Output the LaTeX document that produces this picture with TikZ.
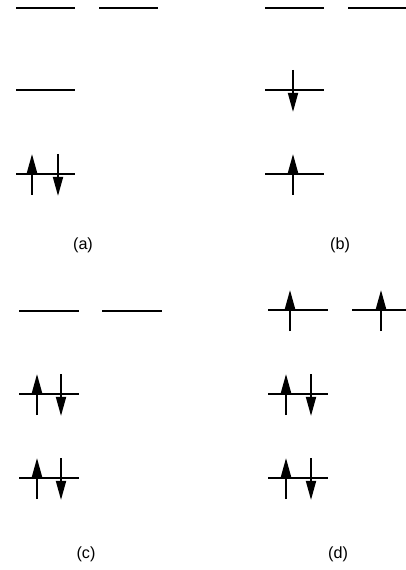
\documentclass[tikz,border=0pt]{standalone}
\usepackage{fontspec}
\setmainfont{Liberation Sans}
\usetikzlibrary{arrows.meta}

\begin{document}
\begin{tikzpicture}[x=0.025cm, y=-0.025cm, line width=0.5mm,
    spin/.style={-{Triangle[length=4.8mm, width=2.5mm]}},
    lbl/.style={font=\fontsize{11.5}{13}\selectfont}]
    \useasboundingbox (0,0) rectangle (406,570);
    % level from x1 to x2 at height y
    \def\lev#1#2#3{\draw (#1,#3) -- (#2,#3);}
    % spin up / spin down at x on level y
    \def\up#1#2{\draw[spin] (#1,#2+21) -- (#1,#2-20);}
    \def\dn#1#2{\draw[spin] (#1,#2-20) -- (#1,#2+22);}

    % (a)
    \lev{16}{75}{8}
    \lev{99}{158}{8}
    \lev{16}{75}{90}
    \lev{16}{75}{174}
    \up{32}{174}
    \dn{58}{174}
    \node[lbl] (la) at (83,245) {(a)};

    % (b)
    \lev{265}{324}{8}
    \lev{348}{405.5}{8}
    \lev{265}{324}{90}
    \dn{293}{90}
    \lev{265}{324}{174}
    \up{293}{174}
    \node[lbl] (lb) at (340,245) {(b)};

    % (c)
    \lev{19}{79}{311}
    \lev{102}{162}{311}
    \lev{19}{79}{394}
    \up{37}{394}
    \dn{61}{394}
    \lev{19}{79}{478}
    \up{37}{478}
    \dn{61}{478}
    \node[lbl] (lc) at (86,554) {(c)};

    % (d)
    \lev{268}{328}{310}
    \up{290}{310}
    \lev{352}{405.5}{310}
    \up{381}{310}
    \lev{268}{328}{394}
    \up{286}{394}
    \dn{311}{394}
    \lev{268}{328}{478}
    \up{286}{478}
    \dn{311}{478}
    \node[lbl] (ld) at (338,554) {(d)};
\end{tikzpicture}
\end{document}
